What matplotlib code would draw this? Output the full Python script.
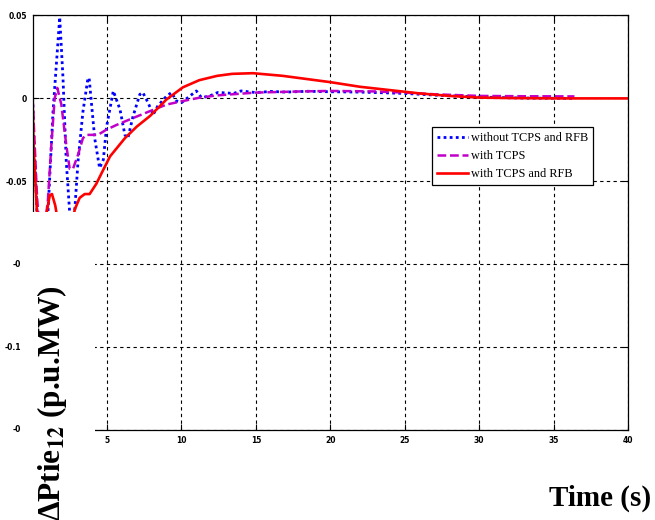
import matplotlib
matplotlib.use("Agg")
import matplotlib.pyplot as plt
from matplotlib.patches import Rectangle

plt.rcParams["mathtext.fontset"] = "stix"

# series (time in s, deviation in p.u.MW)
t_blue = [0, 0.07, 0.3, 0.6, 0.9, 1.03, 1.37, 1.82, 2.04, 2.26, 2.49, 2.7, 3.05, 3.38,
          3.72, 3.8, 4.17, 4.5, 4.75, 4.97, 5.42, 5.87, 6.2, 6.4, 6.74, 7.2, 7.4, 7.75,
          8.1, 8.4, 9.0, 9.33, 9.67, 10.0, 10.56, 11.0, 11.35, 11.9, 12.45, 13.5, 14.0,
          15.0, 16.0, 17.0, 18.5, 20.0, 22.0, 25.0, 27.0, 30.0, 33.0, 36.4]
y_blue = [0, -0.02, -0.07, -0.1, -0.09, -0.069, -0.008, 0.049, 0.0124, -0.038, -0.069,
          -0.085, -0.038, -0.008, 0.0124, 0.012, -0.024, -0.042, -0.037, -0.017, 0.0045,
          -0.0067, -0.022, -0.024, -0.011, 0.0024, 0.0036, -0.0025, -0.0098, -0.0047,
          0.0014, 0.0035, -0.0016, -0.0026, 0.0014, 0.0045, 0.0004, 0.0015, 0.0036,
          0.003, 0.0045, 0.0035, 0.0042, 0.0038, 0.0043, 0.004, 0.0038, 0.003, 0.002,
          0.0008, 0.0002, 0.0]

t_mag = [0, 0.3, 0.6, 1.03, 1.26, 1.48, 1.66, 1.93, 2.04, 2.26, 2.49, 2.71, 3.05, 3.38,
         3.6, 4.39, 4.93, 5.64, 6.76, 7.88, 9.0, 10.1, 11.2, 12.36, 15.0, 18.0, 20.0,
         23.0, 25.0, 27.0, 30.0, 33.0, 36.4]
y_mag = [0, -0.06, -0.095, -0.061, -0.028, 0.0, 0.0063, -0.0037, -0.012, -0.028,
         -0.0425, -0.0425, -0.034, -0.024, -0.022, -0.022, -0.019, -0.016, -0.0118,
         -0.0077, -0.0037, -0.0016, 0.0004, 0.0018, 0.0035, 0.0042, 0.0045, 0.0042,
         0.0035, 0.0025, 0.0015, 0.0013, 0.0012]

t_red = [0, 0.07, 0.3, 0.6, 0.92, 1.15, 1.3, 1.52, 1.66, 2.0, 2.5, 2.83, 3.16, 3.5,
         3.83, 4.28, 4.75, 5.2, 6.2, 7.0, 7.9, 9.0, 10.1, 11.2, 12.4, 13.4, 14.8, 16.8,
         20.0, 22.0, 24.0, 26.0, 28.0, 30.0, 32.0, 35.0, 40.0]
y_red = [0, -0.03, -0.07, -0.1, -0.07, -0.0585, -0.0577, -0.0646, -0.072, -0.1, -0.085,
         -0.067, -0.06, -0.0577, -0.0577, -0.0515, -0.043, -0.035, -0.024, -0.017,
         -0.0105, -0.0006, 0.0067, 0.011, 0.0136, 0.0148, 0.0152, 0.0136, 0.0098, 0.007,
         0.005, 0.003, 0.0015, 0.0005, 0.0002, 0.0, 0.0]

labels = ["without TCPS and RFB", "with TCPS", "with TCPS and RFB"]
x_ticks = [5, 10, 15, 20, 25, 30, 35, 40]
y_ticks_top = [0.05, 0, -0.05]
y_labels_top = ["0.05", "0", "-0.05"]
y_ticks_low = [-0.1, -0.15, -0.2]
y_labels_low = ["-0", "-0.1", "-0"]

fig = plt.figure(figsize=(6.55, 5.2), dpi=100)
ax = fig.add_axes([0.0498, 0.1731, 0.909, 0.7971])

ax.plot(t_blue, y_blue, color="#0000ff", lw=2.0, ls=(0, (1, 1.2)), label=labels[0])
ax.plot(t_mag, y_mag, color="#c000c8", lw=1.8, ls=(0, (3.5, 1.5)), label=labels[1])
ax.plot(t_red, y_red, color="#ff0000", lw=1.9, label=labels[2])

ax.set_xlim(0, 40)
ax.set_ylim(-0.2, 0.05)
ax.set_xticks(x_ticks)
ax.set_xticklabels([str(v) for v in x_ticks])
ax.set_yticks(y_ticks_top + y_ticks_low)
ax.set_yticklabels(y_labels_top + [""] * 3)
ax.tick_params(direction="in", length=4, width=0.8, pad=4, labelsize=5.5,
               top=True, right=True)
for lab in ax.get_xticklabels() + ax.get_yticklabels():
    lab.set_fontweight("bold")
ax.grid(True, color="black", ls=(0, (3, 3)), lw=0.8)
for sp in ax.spines.values():
    sp.set_linewidth(0.9)

# lower y labels sit further left in the reference
tr = ax.get_yaxis_transform()
for v, s in zip(y_ticks_low, y_labels_low):
    ax.text(-0.019, v, s, transform=tr, ha="right", va="center", fontsize=5.5,
            fontweight="bold", clip_on=False)

# blank patch covering the lower left corner of the plot
ax.add_patch(Rectangle((-0.6, -0.215), 4.8, 0.215 - 0.0683, facecolor="white",
                       edgecolor="none", zorder=5, clip_on=False))

leg = ax.legend(loc="upper left", bbox_to_anchor=(0.671, 0.731),
                prop={"family": "Liberation Serif", "size": 8.8}, fancybox=False,
                framealpha=1, edgecolor="black", handlelength=2.5,
                labelspacing=0.5, borderpad=0.4, handletextpad=0.25,
                borderaxespad=0)
leg.get_frame().set_linewidth(0.9)
leg.set_zorder(6)

fig.text(52 / 655, 1 - 403 / 520, "ΔPtie$_{\\mathbf{12}}$ (p.u.MW)", rotation=90,
         ha="center", va="center", fontsize=22.5, fontweight="bold",
         family="Liberation Serif", zorder=10)
fig.text(600 / 655, 1 - 498 / 520, "Time (s)", ha="center", va="center",
         fontsize=21, fontweight="bold", family="Liberation Serif")

fig.savefig("out.png", dpi=100)
